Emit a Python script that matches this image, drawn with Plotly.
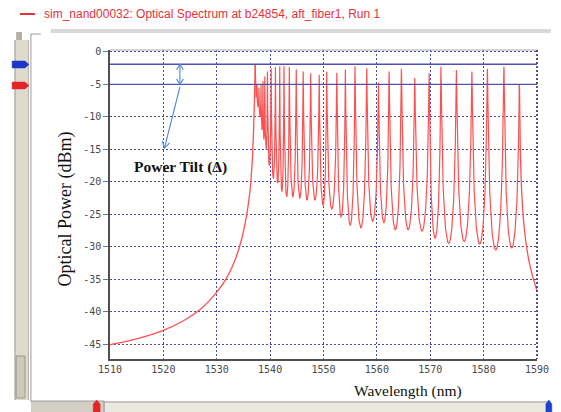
import numpy as np
import plotly.graph_objects as go

# ---- spectrum data (wavelength in nm, power in dBm) ----
# rising ASE edge below the first fringe
edge_nm = [1510.0, 1515.0, 1520.0, 1524.0, 1527.0, 1530.0, 1532.0, 1533.5,
           1534.7, 1535.6, 1536.2, 1536.6, 1536.9, 1537.1, 1537.2]
edge_dbm = [-45.1, -44.2, -42.9, -41.3, -39.6, -37.0, -34.6, -31.9,
            -28.7, -25.1, -21.6, -17.5, -12.0, -6.0, -1.9]

# fringe maxima
peak_nm = [1537.2, 1537.55, 1537.9, 1538.3, 1538.65, 1539.0, 1539.5, 1540.2,
           1541.0, 1541.8, 1542.6, 1543.6, 1544.9, 1546.2, 1547.6, 1549.2,
           1550.6, 1552.5, 1554.1, 1555.9, 1558.1, 1560.3, 1562.3, 1564.6,
           1567.1, 1569.8, 1572.0, 1574.9, 1577.8, 1580.7, 1583.8, 1586.7]
peak_dbm = [-1.9, -5.0, -5.5, -5.0, -4.5, -3.8, -3.0, -2.5,
            -2.3, -2.2, -2.2, -2.3, -2.7, -3.0, -3.3, -3.5,
            -3.0, -3.2, -2.7, -2.2, -2.5, -4.7, -3.0, -2.6,
            -4.0, -3.3, -2.3, -2.8, -3.0, -2.6, -2.3, -5.1]
# fringe minima (one between each pair of neighbouring maxima)
valley_dbm = [-7.0, -8.5, -10.0, -12.0, -13.5, -15.0, -17.5, -19.5,
              -20.2, -21.5, -22.3, -22.3, -22.5, -22.8, -22.8, -23.6,
              -24.2, -25.4, -26.7, -27.1, -26.1, -26.3, -27.4, -27.4,
              -27.6, -28.7, -29.5, -29.2, -29.6, -30.5, -30.2]

# roll-off above the last fringe
tail_nm = [1586.7, 1586.85, 1587.1, 1587.6, 1588.4, 1589.2, 1590.0]
tail_dbm = [-5.1, -14.0, -21.0, -27.0, -31.8, -34.6, -36.8]

# reference levels for the tilt markers
level_hi = -1.9
level_lo = -5.0

x_ticks = [1510, 1520, 1530, 1540, 1550, 1560, 1570, 1580, 1590]
y_ticks = [0, -5, -10, -15, -20, -25, -30, -35, -40, -45]

X_RANGE = [1510, 1590]
Y_RANGE = [-47.3, 0.3]

# ---- build the fringe trace: Airy-type line shape between maxima ----
F = 150.0
fx, fy = [], []
for i in range(len(peak_nm) - 1):
    l0, l1 = peak_nm[i], peak_nm[i + 1]
    p0, p1 = peak_dbm[i], peak_dbm[i + 1]
    t = np.linspace(0.0, 1.0, 90, endpoint=False)
    top = p0 + (p1 - p0) * t
    g = np.log1p(F * np.sin(np.pi * t) ** 2) / np.log1p(F)
    fx.append(l0 + (l1 - l0) * t)
    fy.append(top - (top - valley_dbm[i]) * g)
fx.append(np.array([peak_nm[-1]]))
fy.append(np.array([peak_dbm[-1]]))
fx = np.concatenate(fx)
fy = np.concatenate(fy)

RED = "#ff5050"

fig = go.Figure()
fig.add_trace(go.Scatter(x=edge_nm, y=edge_dbm, mode="lines",
                         line=dict(color=RED, width=1.3, shape="spline", smoothing=0.8),
                         hoverinfo="skip"))
fig.add_trace(go.Scatter(x=fx, y=fy, mode="lines",
                         line=dict(color=RED, width=1.2), hoverinfo="skip"))
fig.add_trace(go.Scatter(x=tail_nm, y=tail_dbm, mode="lines",
                         line=dict(color=RED, width=1.3, shape="spline", smoothing=0.6),
                         hoverinfo="skip"))

# ---- pixel helpers for the window frame ----
W, H = 561, 412
L, R, T, B = 110, 542, 50, 359
SX = (R - L) / (X_RANGE[1] - X_RANGE[0])   # px per nm
SY = (B - T) / (Y_RANGE[1] - Y_RANGE[0])   # px per dB


def px(x):
    return (x - L) / (R - L)


def py(y):
    return (B - y) / (B - T)


shapes = []


def rect(x0, y0, x1, y1, fill, line=None, lw=1):
    shapes.append(dict(type="rect", xref="paper", yref="paper",
                       x0=px(x0), x1=px(x1), y0=py(y0), y1=py(y1),
                       fillcolor=fill, layer="above",
                       line=dict(color=line or fill, width=lw if line else 0)))


def hline(x0, x1, y, color, lw=1, dash="solid"):
    shapes.append(dict(type="line", xref="paper", yref="paper",
                       x0=px(x0), x1=px(x1), y0=py(y), y1=py(y),
                       line=dict(color=color, width=lw, dash=dash), layer="above"))


def vline(x, y0, y1, color, lw=1, dash="solid"):
    shapes.append(dict(type="line", xref="paper", yref="paper",
                       x0=px(x), x1=px(x), y0=py(y0), y1=py(y1),
                       line=dict(color=color, width=lw, dash=dash), layer="above"))


def path(points, fill):
    d = "M " + " L ".join(f"{px(a):.5f},{py(b):.5f}" for a, b in points) + " Z"
    shapes.append(dict(type="path", xref="paper", yref="paper", path=d,
                       fillcolor=fill, line=dict(color=fill, width=0.5), layer="above"))


ARROW = "#4f86d9"


def arrow(x0, y0, x1, y1, head_end=True, head_start=False, size=7.0, spread=0.55):
    """Line in data coords with open chevron heads sized in pixels."""
    shapes.append(dict(type="line", xref="x", yref="y", x0=x0, y0=y0, x1=x1, y1=y1,
                       line=dict(color=ARROW, width=1.1), layer="above"))

    def head(hx, hy, tx, ty):
        # direction from the tip back towards the tail, in screen pixels
        dx, dy = (tx - hx) * SX, (ty - hy) * SY
        n = np.hypot(dx, dy)
        ux, uy = dx / n, dy / n
        pts = []
        for s in (spread, -spread):
            c, si = np.cos(s), np.sin(s)
            rx, ry = ux * c - uy * si, ux * si + uy * c
            pts.append((hx + rx * size / SX, hy + ry * size / SY))
        d = (f"M {pts[0][0]:.4f},{pts[0][1]:.4f} L {hx:.4f},{hy:.4f} "
             f"L {pts[1][0]:.4f},{pts[1][1]:.4f}")
        shapes.append(dict(type="path", xref="x", yref="y", path=d,
                           line=dict(color=ARROW, width=1.1), layer="above"))

    if head_end:
        head(x1, y1, x0, y0)
    if head_start:
        head(x0, y0, x1, y1)


# tilt reference lines across the plot
for lv in (level_hi, level_lo):
    shapes.append(dict(type="line", xref="paper", yref="y", x0=0, x1=1, y0=lv, y1=lv,
                       line=dict(color="#5050b4", width=1.4), layer="above"))

# tilt arrows
arrow(1523.1, level_lo, 1523.1, level_hi, head_end=True, head_start=True, size=6.5)
arrow(1523.1, level_lo - 0.4, 1520.2, -14.8, head_end=True, size=7.5)

# plot frame: light top edge, dark dotted right edge
hline(L, R, T, "#a8a8a8", 1)
vline(R, T, B, "#28287a", 1.6, "2px,2px")

# title line marker
hline(19, 34, 14, "#e8303a", 2)

# top bar and corner
rect(50, 29, 556, 33, "#d9d9d9")
rect(15, 32, 21, 40, "#b4b0a8")
hline(30, 40, 34, "#9a9a9a", 1)
vline(30, 34, 402, "#9a9a9a", 1)

# left scroll strip
rect(13, 40, 28, 400, "#dedace")
vline(14, 40, 400, "#a8a498", 1)
vline(27.5, 40, 400, "#b8b4a8", 1)
rect(15, 356, 24, 398, "#cdc9bd", "#9c988c", 1)

# level handles on the strip
path([(11, 61), (24, 61), (28, 64.5), (24, 68), (11, 68)], "#1f36c8")
path([(11, 82), (24, 82), (28, 85.5), (24, 89), (11, 89)], "#e02626")

# bottom slider
rect(30, 401, 104, 412, "#d3cfc4")
hline(30, 104, 401, "#9c9c9c", 1)
rect(104, 401, 556, 412, "#ebe8e0")
hline(104, 556, 402, "#a0a0a0", 1)
vline(104, 401, 412, "#8c8c8c", 1)
path([(93, 412), (93, 404), (96.5, 400), (100, 404), (100, 412)], "#e02626")
path([(551, 412), (551, 404), (554, 400), (557, 404), (557, 412)], "#2040d0")

annotations = [
    dict(text="sim_nand00032: Optical Spectrum at b24854, aft_fiber1, Run 1",
         xref="paper", yref="paper", x=px(41), y=py(14), xanchor="left", yanchor="middle",
         showarrow=False, font=dict(family="Liberation Sans, Arial", size=12, color="#e8303a")),
    dict(text="Optical Power (dBm)", xref="paper", yref="paper",
         x=px(64), y=py(209), textangle=-90, showarrow=False,
         xanchor="center", yanchor="middle",
         font=dict(family="Liberation Serif, Times New Roman", size=18, color="#111111")),
    dict(text="Wavelength (nm)", xref="paper", yref="paper",
         x=px(411), y=py(391), showarrow=False, xanchor="center", yanchor="middle",
         font=dict(family="Liberation Serif, Times New Roman", size=15.5, color="#111111")),
    dict(text="<b>Power Tilt (\u0394)</b>", xref="paper", yref="paper",
         x=px(181), y=py(167), showarrow=False, xanchor="center", yanchor="middle",
         font=dict(family="Liberation Serif, Times New Roman", size=15.5, color="#111111")),
]

tick_font = dict(family="DejaVu Sans Mono", size=10, color="#4a4a4a")
grid_col = "#4a4aa8"

fig.update_layout(
    width=W, height=H,
    margin=dict(l=L, r=W - R, t=T, b=H - B, pad=0),
    paper_bgcolor="white", plot_bgcolor="white",
    showlegend=False,
    shapes=shapes, annotations=annotations,
    xaxis=dict(range=X_RANGE, tickvals=x_ticks, ticktext=[str(v) for v in x_ticks],
               showgrid=True, gridcolor=grid_col, gridwidth=1, griddash="2px,2px",
               showline=True, linecolor="#505050", linewidth=1.5,
               ticks="", tickfont=tick_font, zeroline=False),
    yaxis=dict(range=Y_RANGE, tickvals=y_ticks, ticktext=[str(v) for v in y_ticks],
               showgrid=True, gridcolor=grid_col, gridwidth=1, griddash="2px,2px",
               showline=True, linecolor="#505050", linewidth=1.5,
               ticks="outside", ticklen=5, tickcolor="#777777", tickfont=tick_font,
               zeroline=False),
)

fig.write_html("out.html")
